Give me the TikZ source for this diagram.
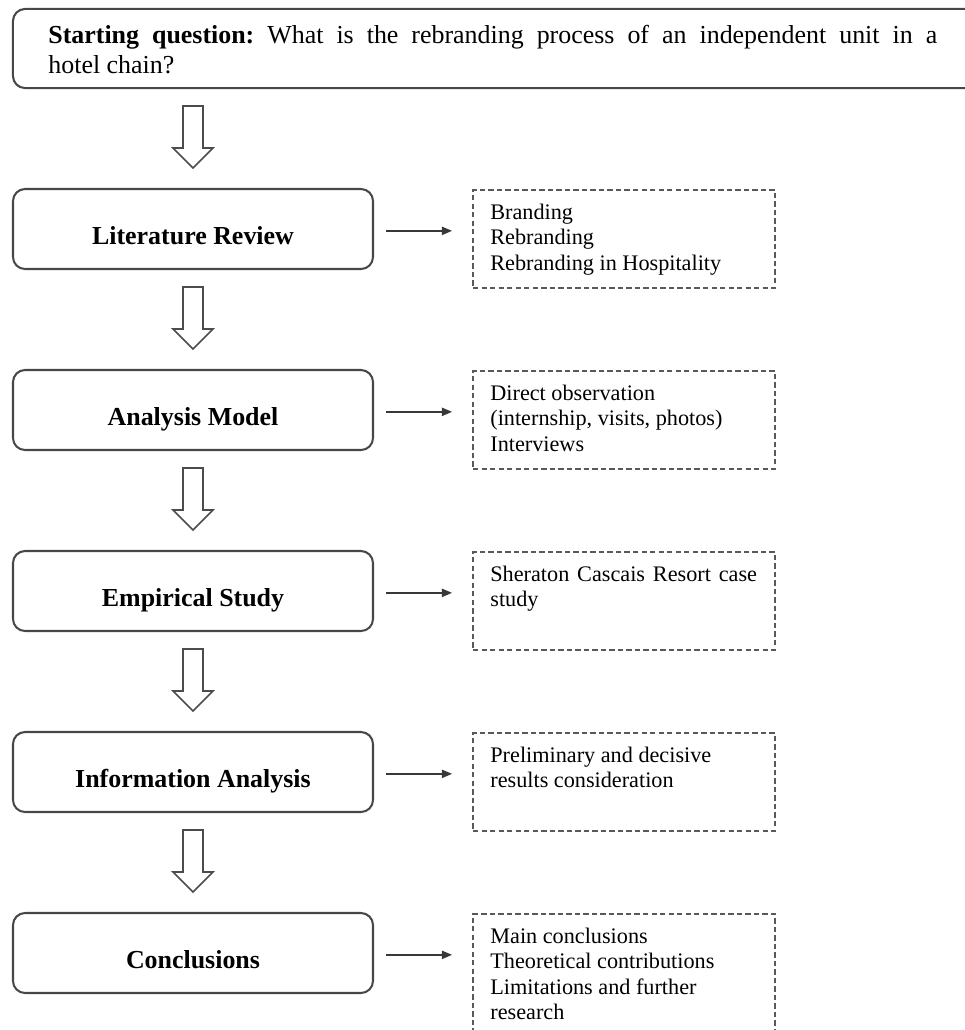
\documentclass[tikz,border=0pt]{standalone}
\usepackage{fontspec}
\setmainfont{Liberation Serif}
\usetikzlibrary{arrows.meta,calc}

\begin{document}
\frenchspacing
\begin{tikzpicture}[x=0.54pt,y=-0.54pt,
  frame/.style={draw=black!72, line width=1.1pt, rounded corners=6.5pt, inner sep=0pt},
  stage/.style={frame, minimum width=194.4pt, minimum height=43.2pt,
    font=\fontsize{14}{16}\selectfont\bfseries, text height=16.2pt, text depth=0pt},
  notebox/.style={draw=black!65, line width=1.05pt, dash pattern=on 2.9pt off 1.7pt,
    minimum width=163.1pt, minimum height=52.9pt, inner sep=0pt},
  notetext/.style={font=\fontsize{12}{13.8}\selectfont, align=left, inner sep=0pt, anchor=north west},
  link/.style={draw=black!78, line width=0.75pt, -{Triangle[length=5.5pt,width=4.5pt]},
    shorten <=6.5pt, shorten >=10.8pt},
  hollowarrow/.pic={\draw[black!70, line width=0.85pt, line join=miter]
    (-10,0) -- (10,0) -- (10,42) -- (20,42) -- (0,62) -- (-20,42) -- (-10,42) -- cycle;}
]
\path[use as bounding box] (0,0) rectangle (965,1030);
\clip (0,0) rectangle (965,1030);

% starting question
\node[frame, minimum width=527.6pt, minimum height=42.7pt] (Q) at (501.5,48.5) {};
\node[font=\fontsize{14}{16.2}\selectfont, text width=480pt, align=justify,
  inner sep=0pt, anchor=north west] (Qtext) at (48,22)
  {\strut\textbf{Starting question:} What is the rebranding process of an independent unit in a\linebreak hotel chain?};

% stages of the research
\node[stage] (S1) at (193,229) {Literature Review};
\node[stage] (S2) at (193,410) {Analysis Model};
\node[stage] (S3) at (193,591) {Empirical Study};
\node[stage] (S4) at (193,772) {Information Analysis};
\node[stage] (S5) at (193,953) {Conclusions};

% notes beside each stage
\node[notebox] (D1) at (624,239) {};
\node[notebox] (D2) at (624,420) {};
\node[notebox] (D3) at (624,601) {};
\node[notebox] (D4) at (624,782) {};
\node[notebox, minimum height=67.5pt] (D5) at (624,976.5) {};

\node[notetext] (N1) at ($(D1.north west)+(18,12)$) {\strut Branding\\Rebranding\\Rebranding in Hospitality};
\node[notetext] (N2) at ($(D2.north west)+(18,12)$) {\strut Direct observation\\(internship, visits, photos)\\Interviews};
\node[notetext] (N3) at ($(D3.north west)+(18,12)$) {\strut\makebox[144pt][s]{Sheraton Cascais Resort case}\\study};
\node[notetext] (N4) at ($(D4.north west)+(18,12)$) {\strut Preliminary and decisive\\results consideration};
\node[notetext] (N5) at ($(D5.north west)+(18,12)$) {\strut Main conclusions\\Theoretical contributions\\Limitations and further\\research};

% hollow arrows down the main column
\foreach \s in {S1,S2,S3,S4,S5}
  \pic at ($(\s.north)+(0,-82)$) {hollowarrow};

% links from stages to notes
\foreach \i in {1,...,5}
  \draw[link] ([yshift=-1pt]S\i.east) -- ([yshift=-1pt]S\i.east -| D\i.west);
\end{tikzpicture}
\end{document}
